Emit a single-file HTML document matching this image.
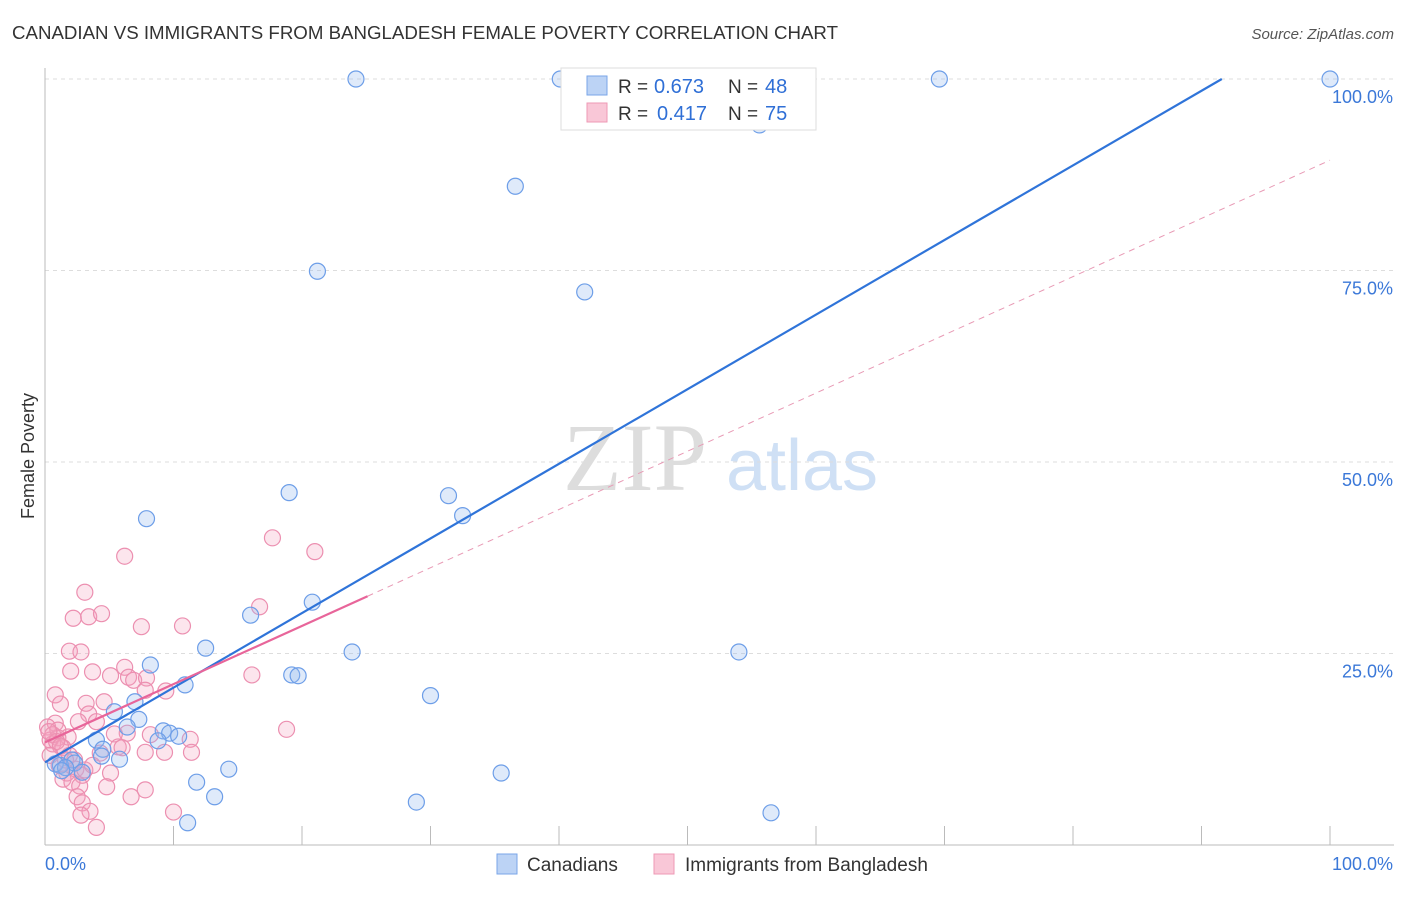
<!DOCTYPE html>
<html><head><meta charset="utf-8"><style>
body{margin:0;background:#fff;font-family:"Liberation Sans",sans-serif;}
svg text{font-family:"Liberation Sans",sans-serif;}
</style></head><body>
<svg id="chart" width="1406" height="892" viewBox="0 0 1406 892">
<text x="12" y="39" font-size="18" fill="#333" textLength="826" lengthAdjust="spacingAndGlyphs">CANADIAN VS IMMIGRANTS FROM BANGLADESH FEMALE POVERTY CORRELATION CHART</text>
<text x="1394" y="39" font-size="15" fill="#555" text-anchor="end" font-style="italic">Source: ZipAtlas.com</text>
<text x="34" y="456" font-size="18" fill="#333" text-anchor="middle" transform="rotate(-90 34 456)">Female Poverty</text>
<g>
<text x="635" y="490" font-size="96" fill="#ddd" text-anchor="middle" font-family="Liberation Serif" style="font-family:'Liberation Serif',serif">ZIP</text>
<text x="802" y="490" font-size="72" fill="#cfe0f5" text-anchor="middle">atlas</text>
</g>
<g id="grid"></g>
<g id="axes"></g>
<g id="pts"></g>
<g id="lines"></g>
<g>
<rect x="561" y="68" width="255" height="62" fill="#fff" stroke="#ddd"/>
<rect x="587" y="76" width="20" height="19" fill="#bcd3f5" stroke="#7aa6e8"/>
<rect x="587" y="103" width="20" height="19" fill="#f9c7d7" stroke="#ee99b5"/>
<text x="618" y="93" font-size="19" fill="#333">R =</text>
<text x="654" y="93" font-size="20" fill="#2f6fd6">0.673</text>
<text x="728" y="93" font-size="19" fill="#333">N =</text>
<text x="765" y="93" font-size="20" fill="#2f6fd6">48</text>
<text x="618" y="120" font-size="19" fill="#333">R =</text>
<text x="657" y="120" font-size="20" fill="#2f6fd6">0.417</text>
<text x="728" y="120" font-size="19" fill="#333">N =</text>
<text x="765" y="120" font-size="20" fill="#2f6fd6">75</text>
</g>
<g>
<rect x="497" y="854" width="20" height="20" fill="#bcd3f5" stroke="#7aa6e8"/>
<text x="527" y="871" font-size="19" fill="#333">Canadians</text>
<rect x="654" y="854" width="20" height="20" fill="#f9c7d7" stroke="#ee99b5"/>
<text x="685" y="871" font-size="19" fill="#333">Immigrants from Bangladesh</text>
</g>
</svg>
<script>
const yTicks=[25,50,75,100];
const yTickLabels=["25.0%","50.0%","75.0%","100.0%"];
const xTickVals=[0,10,20,30,40,50,60,70,80,90,100];
const canX=[24.2,40.1,69.6,100,55.6,36.6,21.2,42.0,19.0,31.4,32.5,7.9,20.8,16.0,23.9,54.0,12.5,8.2,10.9,19.2,19.7,30.0,7.0,5.4,7.3,6.4,9.2,9.7,10.4,8.8,4.0,4.5,5.8,4.4,2.1,2.3,1.2,0.8,1.6,2.9,1.3,14.3,11.8,13.2,28.9,35.5,11.1,56.5];
const canY=[100,100,100,100,94.0,86.0,74.9,72.2,46.0,45.6,43.0,42.6,31.7,30.0,25.2,25.2,25.7,23.5,20.9,22.2,22.1,19.5,18.7,17.4,16.4,15.4,14.9,14.6,14.2,13.6,13.7,12.5,11.2,11.6,11.1,10.7,10.4,10.6,10.1,9.5,9.7,9.9,8.2,6.3,5.6,9.4,2.9,4.2];
const banX=[6.2,17.7,21.0,3.1,2.2,3.4,4.4,7.5,10.7,16.7,1.9,2.8,2.0,6.2,3.7,5.1,6.5,6.9,7.9,0.8,9.4,1.2,3.2,4.6,16.1,7.8,3.4,2.6,4.0,0.8,0.2,18.8,11.3,6.4,5.4,8.2,1.8,1.0,0.4,0.6,1.4,5.7,6.0,4.3,7.8,9.3,11.4,1.9,2.3,1.1,2.4,1.7,5.1,2.9,1.4,2.1,2.7,4.8,2.5,6.7,7.8,2.9,3.5,2.8,10.0,4.0,1.0,0.6,0.9,1.2,1.6,3.1,3.7,0.4,0.3];
const banY=[37.7,40.1,38.3,33.0,29.6,29.8,30.2,28.5,28.6,31.1,25.3,25.2,22.7,23.2,22.6,22.1,21.9,21.5,21.8,19.6,20.1,18.4,18.5,18.7,22.2,20.2,17.1,16.1,16.1,15.9,15.4,15.1,13.8,14.6,14.5,14.4,14.1,14.0,13.7,13.2,12.7,12.8,12.7,12.0,12.1,12.1,12.1,11.7,11.1,10.4,9.9,9.4,9.4,9.1,8.6,8.2,7.7,7.6,6.3,6.3,7.2,5.5,4.4,3.9,4.3,2.3,15.0,14.4,13.5,12.9,11.1,9.8,10.4,11.7,14.8];
const canFit=[10.8,0.974];
const banFit=[13.4,0.76];
const banSolidMax=25.1;
const NS="http://www.w3.org/2000/svg";
const sx=v=>45+v*12.85, sy=v=>845-v*7.66;
function mk(tag,attrs,parent){const e=document.createElementNS(NS,tag);for(const k in attrs)e.setAttribute(k,attrs[k]);parent.appendChild(e);return e;}
const grid=document.getElementById('grid'),axes=document.getElementById('axes'),pts=document.getElementById('pts'),lines=document.getElementById('lines');
yTicks.forEach((t,i)=>{
 const l=mk('line',{x1:45,x2:1394,y1:sy(t),y2:sy(t),stroke:'#ddd','stroke-dasharray':'4,4'},grid);
 
 
 const tx=mk('text',{x:1393,y:sy(t)+24,'font-size':18,fill:'#3b78d8','text-anchor':'end'},axes);
 tx.textContent=yTickLabels[i];
 
 
});
const ya=mk('line',{x1:45,x2:45,y1:68,y2:845,stroke:'#bbb'},axes);


const xa=mk('line',{x1:45,x2:1394,y1:845,y2:845,stroke:'#bbb'},axes);


xTickVals.forEach(v=>{
 const t=mk('line',{x1:sx(v),x2:sx(v),y1:826,y2:845,stroke:'#bbb'},axes);
 
 
});
const xl0=mk('text',{x:45,y:870,'font-size':18,fill:'#3b78d8'},axes);xl0.textContent='0.0%';


const xl1=mk('text',{x:1393,y:870,'font-size':18,fill:'#3b78d8','text-anchor':'end'},axes);xl1.textContent='100.0%';


banX.forEach((x,i)=>{
 const c=mk('circle',{cx:sx(x),cy:sy(banY[i]),r:8,fill:'rgba(245,160,190,0.28)',stroke:'#ec8fb0','stroke-width':1.2},pts);
 
 
});
canX.forEach((x,i)=>{
 const c=mk('circle',{cx:sx(x),cy:sy(canY[i]),r:8,fill:'rgba(150,185,240,0.3)',stroke:'#6d9ee8','stroke-width':1.2},pts);
 
 
});
const cEnd=(100-canFit[0])/canFit[1];
const cl=mk('line',{x1:sx(0),y1:sy(canFit[0]),x2:sx(cEnd),y2:sy(100),stroke:'#2f74d9','stroke-width':2.2},lines);


const bd=mk('line',{x1:sx(banSolidMax),y1:sy(banFit[0]+banFit[1]*banSolidMax),x2:sx(100),y2:sy(banFit[0]+banFit[1]*100),stroke:'#e89ab5','stroke-width':1,'stroke-dasharray':'6,5'},lines);


const bl=mk('line',{x1:sx(0),y1:sy(banFit[0]),x2:sx(banSolidMax),y2:sy(banFit[0]+banFit[1]*banSolidMax),stroke:'#e8659a','stroke-width':2.2},lines);


</script>
</body></html>
